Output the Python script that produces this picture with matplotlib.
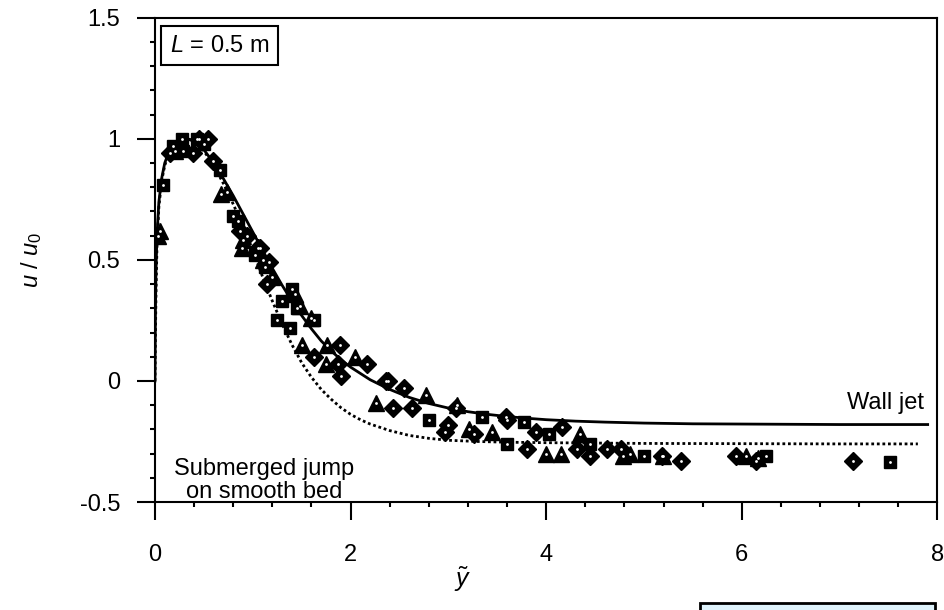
import matplotlib
matplotlib.use('Agg')
import matplotlib.pyplot as plt
from matplotlib.patches import Rectangle
from matplotlib.ticker import MultipleLocator

plt.rcParams['font.family'] = ['Liberation Sans', 'DejaVu Sans']
plt.rcParams['mathtext.fontset'] = 'custom'
plt.rcParams['mathtext.rm'] = 'Liberation Sans'
plt.rcParams['mathtext.it'] = 'Liberation Sans:italic'

# measured points, squares
sq_x = [0.08, 0.18, 0.28, 0.29, 0.43, 0.5, 0.66, 0.8, 0.85, 1.02, 1.12, 1.25, 1.30, 1.38,
        1.40, 1.45, 1.63, 2.8, 3.34, 3.6, 3.77, 4.03, 4.45, 5.0, 6.25, 7.51]
sq_y = [0.81, 0.97, 1.0, 0.95, 1.0, 0.98, 0.87, 0.68, 0.66, 0.52, 0.47, 0.25, 0.33, 0.22,
        0.38, 0.30, 0.25, -0.16, -0.15, -0.26, -0.17, -0.22, -0.26, -0.31, -0.31, -0.335]

# triangles
tri_x = [0.03, 0.05, 0.2, 0.68, 0.74, 0.89, 0.9, 1.1, 1.2, 1.43, 1.48, 1.5, 1.6, 1.75, 1.76,
         2.04, 2.26, 2.77, 3.09, 3.21, 3.45, 4.0, 4.15, 4.35, 4.79, 4.86, 5.19, 6.04, 6.17]
tri_y = [0.60, 0.62, 0.95, 0.77, 0.78, 0.55, 0.58, 0.5, 0.43, 0.36, 0.31, 0.15, 0.26, 0.07, 0.15,
         0.10, -0.09, -0.06, -0.1, -0.2, -0.21, -0.30, -0.30, -0.22, -0.31, -0.30, -0.31, -0.31, -0.32]

# diamonds
dia_x = [0.15, 0.39, 0.45, 0.54, 0.59, 0.87, 0.94, 1.05, 1.07, 1.15, 1.17, 1.63, 1.87, 1.89, 1.9,
         2.17, 2.36, 2.38, 2.43, 2.55, 2.63, 2.97, 3.0, 3.08, 3.26, 3.59, 3.6, 3.8, 3.9, 4.16,
         4.31, 4.45, 4.62, 4.76, 5.18, 5.38, 5.94, 6.15, 7.14]
dia_y = [0.94, 0.94, 1.0, 1.0, 0.91, 0.62, 0.60, 0.55, 0.55, 0.40, 0.49, 0.10, 0.07, 0.15, 0.02,
         0.07, 0.0, 0.0, -0.11, -0.03, -0.11, -0.21, -0.18, -0.11, -0.22, -0.15, -0.16, -0.28, -0.21, -0.19,
         -0.28, -0.31, -0.28, -0.28, -0.31, -0.33, -0.31, -0.33, -0.33]

# wall jet curve
wall_x = [0, 0.005, 0.01, 0.02, 0.04, 0.07, 0.1, 0.15, 0.2, 0.25, 0.3, 0.35, 0.4, 0.5, 0.6, 0.7,
          0.8, 0.9, 1.0, 1.1, 1.2, 1.3, 1.4, 1.5, 1.6, 1.7, 1.8, 1.9, 2.0, 2.2, 2.4, 2.6, 2.8,
          3.0, 3.2, 3.4, 3.6, 3.8, 4.0, 4.3, 4.6, 5.0, 5.5, 6.0, 7.0, 7.9]
wall_y = [0, 0.3, 0.45, 0.6, 0.74, 0.84, 0.9, 0.955, 0.983, 0.996, 1.0, 0.998, 0.99, 0.955, 0.9,
          0.835, 0.765, 0.69, 0.615, 0.54, 0.465, 0.395, 0.33, 0.27, 0.215, 0.165, 0.125, 0.088,
          0.057, 0.005, -0.035, -0.068, -0.093, -0.112, -0.127, -0.138, -0.147, -0.154, -0.16,
          -0.166, -0.17, -0.174, -0.177, -0.178, -0.18, -0.18]

# submerged jump on smooth bed
sub_x = [0, 0.005, 0.01, 0.02, 0.04, 0.07, 0.1, 0.15, 0.2, 0.25, 0.3, 0.35, 0.4, 0.5, 0.6, 0.7,
         0.8, 0.9, 1.0, 1.1, 1.2, 1.3, 1.4, 1.5, 1.6, 1.7, 1.8, 1.9, 2.0, 2.1, 2.2, 2.4, 2.6,
         2.8, 3.0, 3.3, 3.6, 4.0, 5.0, 6.0, 7.0, 7.8]
sub_y = [0, 0.2, 0.35, 0.55, 0.72, 0.83, 0.89, 0.95, 0.98, 0.995, 1.0, 0.997, 0.988, 0.95, 0.89,
         0.815, 0.73, 0.64, 0.54, 0.43, 0.33, 0.235, 0.15, 0.075, 0.015, -0.035, -0.075, -0.11,
         -0.138, -0.16, -0.178, -0.205, -0.225, -0.237, -0.245, -0.25, -0.253, -0.255, -0.258,
         -0.259, -0.26, -0.26]

fig = plt.figure(figsize=(9.45, 6.1), dpi=100)
ax = fig.add_axes([0.164, 0.177, 0.828, 0.794])

ax.plot(wall_x, wall_y, color='black', lw=2, zorder=2)
ax.plot(sub_x, sub_y, color='black', lw=2, ls=(0, (1, 1)), zorder=2)

ax.plot(sq_x, sq_y, 's', ms=9, color='black', zorder=3)
ax.plot(tri_x, tri_y, '^', ms=11, color='black', zorder=3)
ax.plot(dia_x, dia_y, 'D', ms=9, color='black', zorder=3)
# small white dot in middle of each marker
for xs, ys in [(sq_x, sq_y), (tri_x, tri_y), (dia_x, dia_y)]:
    ax.plot(xs, ys, 'o', ms=2, color='white', mec='none', zorder=4)

ax.set_xlim(0, 8)
ax.set_ylim(-0.5, 1.5)
ax.xaxis.set_major_locator(MultipleLocator(2))
ax.xaxis.set_minor_locator(MultipleLocator(0.4))
ax.yaxis.set_minor_locator(MultipleLocator(0.1))
ax.set_yticks([-0.5, 0, 0.5, 1, 1.5])
ax.set_yticklabels(['-0.5', '0', '0.5', '1', '1.5'])

ax.tick_params(which='major', direction='out', length=13, width=1.5, labelsize=17, pad=12)
ax.tick_params(axis='x', which='major', pad=17)
ax.tick_params(which='minor', direction='out', length=3.5, width=1.5)
for s in ax.spines.values():
    s.set_linewidth(1.5)

ax.set_xlabel(r'$\tilde{y}$', fontsize=18)
ax.xaxis.set_label_coords(0.393, -0.13)
ax.set_ylabel(r'$u$ / $u_0$', fontsize=17, labelpad=26)

ax.text(0.15, 1.43, r'$L$ = 0.5 m', fontsize=17, ha='left', va='top',
        bbox=dict(boxstyle='square,pad=0.35', fc='white', ec='black', lw=1.5))
ax.text(7.86, -0.09, 'Wall jet', fontsize=17, ha='right', va='center')
ax.text(1.12, -0.41, 'Submerged jump\non smooth bed', fontsize=17, ha='center', va='center',
        linespacing=1.05)

fig.patches.append(Rectangle((0.741, -0.02), 0.248, 0.0315, transform=fig.transFigure,
                             fc='#dff3fc', ec='black', lw=2))

fig.savefig('out.png', dpi=100)
